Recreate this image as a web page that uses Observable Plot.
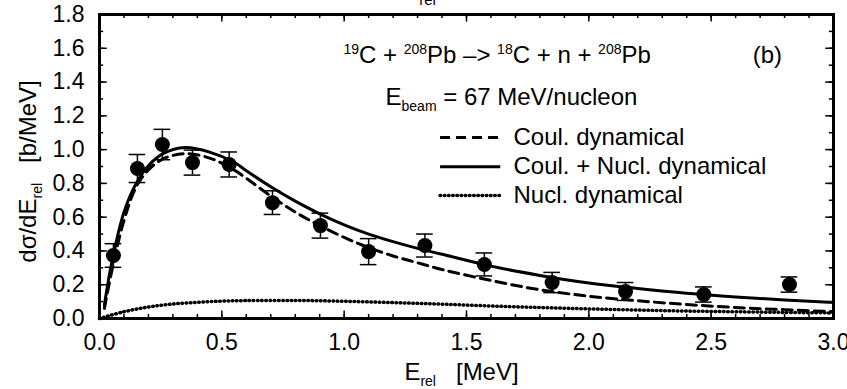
<!DOCTYPE html>
<html><head><meta charset="utf-8">
<script src="https://cdn.jsdelivr.net/npm/d3@7"></script>
<script src="https://cdn.jsdelivr.net/npm/@observablehq/plot@0.6"></script>
<style>body{margin:0;background:#fff}svg text{white-space:pre}</style>
</head><body><div id="chart"></div>
<script>
// Experimental points
const expX   = [0.057, 0.155, 0.257, 0.38, 0.53, 0.707, 0.903, 1.10, 1.33, 1.573, 1.85, 2.15, 2.47, 2.82];
const expY   = [0.373, 0.888, 1.03, 0.923, 0.912, 0.686, 0.55, 0.396, 0.432, 0.32, 0.213, 0.16, 0.142, 0.201];
const expErr = [0.07, 0.083, 0.09, 0.074, 0.074, 0.07, 0.074, 0.077, 0.068, 0.068, 0.06, 0.053, 0.045, 0.045];

// Theory curves
const curveX   = [0.02,0.05,0.1,0.15,0.2,0.26,0.35,0.45,0.55,0.6,0.7,0.8,0.9,1.0,1.1,1.2,1.3,1.4,1.6,1.8,2.0,2.2,2.4,2.6,2.8,3.0];
const coulNucl = [0.08,0.33,0.63,0.80,0.905,0.976,1.012,0.985,0.925,0.875,0.78,0.695,0.62,0.555,0.50,0.455,0.415,0.38,0.31,0.255,0.21,0.178,0.15,0.128,0.11,0.095];
const coulDyn  = [0.06,0.28,0.58,0.78,0.88,0.945,0.976,0.95,0.88,0.83,0.725,0.63,0.55,0.48,0.42,0.37,0.33,0.29,0.225,0.17,0.132,0.105,0.083,0.065,0.052,0.04];
const nuclX    = [0,0.1,0.2,0.3,0.4,0.5,0.6,0.8,1.0,1.2,1.4,1.6,1.8,2.0,2.2,2.4,2.6,2.8,3.0];
const nuclDyn  = [0,0.04,0.068,0.086,0.096,0.103,0.106,0.107,0.102,0.094,0.085,0.074,0.065,0.057,0.05,0.044,0.04,0.036,0.033];

// Ticks and texts
const xMajor = [0,0.5,1.0,1.5,2.0,2.5,3.0];
const xMinor = d3.range(0,31).map(i=>i/10);
const yMajor = [0,0.2,0.4,0.6,0.8,1.0,1.2,1.4,1.6,1.8];
const yMinor = d3.range(0,19).map(i=>i/10);
const legendLabels = ["Coul. dynamical","Coul. + Nucl. dynamical","Nucl. dynamical"];
const reactionText = "^{19}C + ^{208}Pb –> ^{18}C + n + ^{208}Pb";
const beamText = "E_{beam} = 67 MeV/nucleon";
const panelText = "(b)";
const xTitle = "E_{rel}   [MeV]";
const yTitle = "dσ/dE_{rel}   [b/MeV]";

const points = expX.map((x,i)=>({x, y:expY[i], e:expErr[i]}));
const cn = curveX.map((x,i)=>({x, y:coulNucl[i]}));
const cd = curveX.map((x,i)=>({x, y:coulDyn[i]}));
const nd = nuclX.map((x,i)=>({x, y:nuclDyn[i]}));

const FT = 23, FS = 24;
const DOTS = {strokeWidth: 3.5, strokeDasharray: "0.6,3.6", strokeLinecap: "round"};
const DASH = {strokeWidth: 3, strokeDasharray: "10,6"};
const chart = Plot.plot({
  width: 847, height: 389,
  marginLeft: 99, marginRight: 14, marginTop: 14, marginBottom: 71,
  x: {domain: [0,3]}, y: {domain: [0,1.8]},
  style: {fontFamily: "'Liberation Sans', Arial, sans-serif", background: "white", color: "black"},
  marks: [
    Plot.axisX(xMajor, {tickSize: 0, tickPadding: 15, fontSize: FT, tickFormat: d=>d.toFixed(1), label: null}),
    Plot.axisY(yMajor, {tickSize: 0, tickPadding: 15, fontSize: FT, tickFormat: d=>d.toFixed(1), label: null}),
    // inward ticks
    Plot.ruleX(xMinor, {x: d=>d, y1: ()=>0, y2: ()=>0.024, strokeWidth: 1.5}),
    Plot.ruleX(xMajor, {x: d=>d, y1: ()=>0, y2: ()=>0.045, strokeWidth: 1.5}),
    Plot.ruleX(xMinor, {x: d=>d, y1: ()=>1.8, y2: ()=>1.776, strokeWidth: 1.5}),
    Plot.ruleX(xMajor, {x: d=>d, y1: ()=>1.8, y2: ()=>1.755, strokeWidth: 1.5}),
    Plot.ruleY(yMinor, {y: d=>d, x1: ()=>0, x2: ()=>0.017, strokeWidth: 1.5}),
    Plot.ruleY(yMajor, {y: d=>d, x1: ()=>0, x2: ()=>0.032, strokeWidth: 1.5}),
    Plot.ruleY(yMinor, {y: d=>d, x1: ()=>3, x2: ()=>2.983, strokeWidth: 1.5}),
    Plot.ruleY(yMajor, {y: d=>d, x1: ()=>3, x2: ()=>2.968, strokeWidth: 1.5}),
    // curves
    Plot.line(nd, {x: "x", y: "y", curve: "catmull-rom", ...DOTS}),
    Plot.line(cd, {x: "x", y: "y", curve: "catmull-rom", ...DASH}),
    Plot.line(cn, {x: "x", y: "y", curve: "catmull-rom", strokeWidth: 3}),
    // data
    Plot.ruleX(points, {x: "x", y1: d=>d.y-d.e, y2: d=>d.y+d.e, strokeWidth: 1.5}),
    Plot.ruleY(points, {y: d=>d.y+d.e, x1: d=>d.x-0.034, x2: d=>d.x+0.034, strokeWidth: 1.5}),
    Plot.ruleY(points, {y: d=>d.y-d.e, x1: d=>d.x-0.034, x2: d=>d.x+0.034, strokeWidth: 1.5}),
    Plot.dot(points, {x: "x", y: "y", r: 7.5, fill: "black", stroke: "none"}),
    // legend
    Plot.ruleY([legendLabels[0]], {y: ()=>1.071, x1: ()=>1.394, x2: ()=>1.64, ...DASH}),
    Plot.ruleY([legendLabels[1]], {y: ()=>0.899, x1: ()=>1.394, x2: ()=>1.64, strokeWidth: 3}),
    Plot.ruleY([legendLabels[2]], {y: ()=>0.728, x1: ()=>1.394, x2: ()=>1.64, ...DOTS}),
    Plot.text(legendLabels, {text: d=>d, x: ()=>1.692, y: (d,i)=>[1.071,0.899,0.728][i], textAnchor: "start", fontSize: FS}),
    // annotations
    Plot.text([reactionText], {text: d=>d, x: ()=>0.997, y: ()=>1.556, textAnchor: "start", fontSize: FS}),
    Plot.text([panelText], {text: d=>d, x: ()=>2.73, y: ()=>1.556, textAnchor: "middle", fontSize: FS}),
    Plot.text([beamText], {text: d=>d, x: ()=>1.169, y: ()=>1.308, textAnchor: "start", fontSize: FS}),
    Plot.text([xTitle], {text: d=>d, frameAnchor: "bottom", textAnchor: "middle", dx: -5, dy: 54, lineAnchor: "middle", fontSize: FS}),
    Plot.text([yTitle], {text: d=>d, frameAnchor: "left", textAnchor: "middle", dx: -71, dy: 5, rotate: -90, lineAnchor: "middle", fontSize: FS}),
    Plot.text(["rel"], {text: d=>d, frameAnchor: "top", textAnchor: "middle", dx: -39, dy: -10, lineAnchor: "bottom", fontSize: 15}),
    Plot.frame({strokeWidth: 3})
  ]
});
document.getElementById("chart").appendChild(chart);

// rich text: ^{..} superscript, _{..} subscript
d3.select(chart).selectAll("text").each(function(){
  const el = d3.select(this);
  const s = el.text();
  if (!/[\^_]\{/.test(s)) return;
  el.text(null);
  const re = /\^\{([^}]*)\}|_\{([^}]*)\}|[^\^_]+/g;
  let m, off = 0;
  while ((m = re.exec(s))) {
    const t = el.append("tspan");
    if (m[1] !== undefined) { t.text(m[1]).attr("font-size", 14).attr("dy", -9 - off); off = -9; }
    else if (m[2] !== undefined) { t.text(m[2]).attr("font-size", 14).attr("dy", 6 - off); off = 6; }
    else { t.text(m[0]).attr("dy", -off); off = 0; }
  }
});
</script></body></html>
